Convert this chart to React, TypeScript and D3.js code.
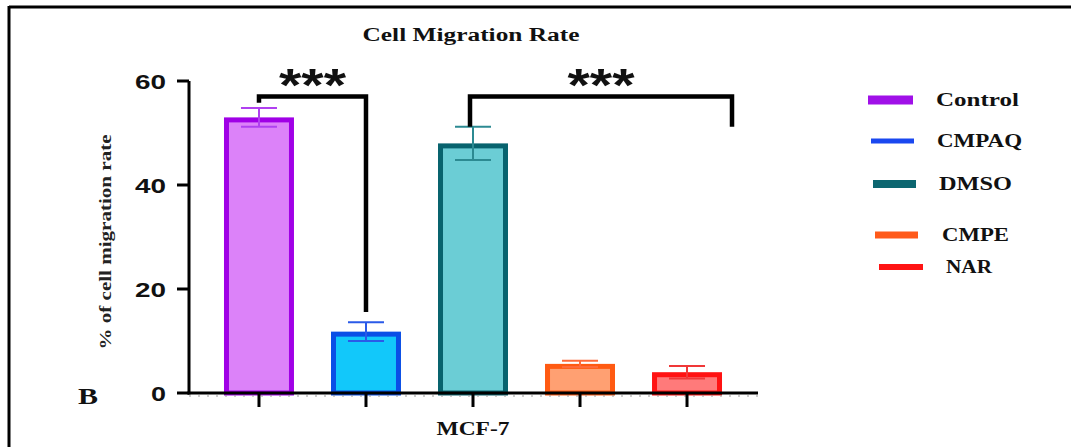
import React from "react";
import * as d3 from "d3";

const categories = ["Control", "CMPAQ", "DMSO", "CMPE", "NAR"];
const means = [53, 11.8, 48, 5.6, 4.0];
const errors = [1.8, 1.8, 3.2, 0.6, 1.2];
const yTicks = [0, 20, 40, 60];
const fillColors = ["#DC82F9", "#12C8FA", "#6BCDD5", "#FFA072", "#FF7A7A"];
const strokeColors = ["#A000E6", "#0A4FE6", "#08636E", "#FF5A12", "#FF1212"];
const errColors = ["#B040F0", "#2A5AE8", "#2C8A92", "#FF6A3A", "#F03838"];
const legendColors = ["#A010E8", "#1A48F0", "#0C6670", "#FF5A1A", "#FF1414"];
const legendLabels = ["Control", "CMPAQ", "DMSO", "CMPE", "NAR"];
// significance brackets
const brackets = [
  { from: 0, to: 1, top: 57, leftEnd: 55.8, rightEnd: 15.6, label: "***" },
  { from: 2, to: 5, top: 57, leftEnd: 51.2, rightEnd: 51.2, label: "***" },
];

const W = 1071;
const H = 447;
const serif = "'Liberation Serif', 'Times New Roman', serif";
const sans = "'Liberation Sans', Arial, sans-serif";

// legend layout (not data)
const legendLayout = [
  { y: 100, x: 868, w: 45, th: 9, tx: 936, tl: 83 },
  { y: 141, x: 871, w: 43, th: 5, tx: 937, tl: 85 },
  { y: 184, x: 873, w: 43, th: 8, tx: 939, tl: 73 },
  { y: 235, x: 875, w: 43, th: 7, tx: 942, tl: 67 },
  { y: 267, x: 879, w: 44, th: 6, tx: 946, tl: 46 },
];

export default function App() {
  const y = d3.scaleLinear().domain([0, 60]).range([393, 81]);
  const x = d3
    .scaleBand<string>()
    .domain(categories)
    .range([189, 757])
    .paddingInner(0.346)
    .paddingOuter(0.327);
  const bw = x.bandwidth();
  const cx = (i: number) => {
    if (i < categories.length) return (x(categories[i]) as number) + bw / 2;
    return (x(categories[categories.length - 1]) as number) + bw + 10;
  };

  return (
    <svg width={W} height={H} style={{ position: "absolute", left: 0, top: 0, background: "#fff" }}>
      <rect x={0} y={0} width={W} height={H} fill="#fff" />
      {/* frame */}
      <line x1={9} y1={7} x2={W} y2={7} stroke="#000" strokeWidth={3} />
      <line x1={9} y1={6} x2={9} y2={H} stroke="#000" strokeWidth={3} />

      {/* title */}
      <text x={471} y={41} textAnchor="middle" fontFamily={serif} fontWeight="bold" fontSize={18}
        textLength={217} lengthAdjust="spacingAndGlyphs" fill="#111">
        Cell Migration Rate
      </text>

      {/* bars */}
      {categories.map((c, i) => {
        const x0 = x(c) as number;
        const sw = 5;
        return (
          <g key={c}>
            <rect x={x0 + sw / 2} y={y(means[i]) + sw / 2} width={bw - sw}
              height={y(0) - y(means[i]) - sw / 2} fill={fillColors[i]} stroke={strokeColors[i]} strokeWidth={sw} />
          </g>
        );
      })}

      {/* error bars */}
      {categories.map((c, i) => {
        const xc = cx(i);
        const t = y(means[i] + errors[i]);
        const b = y(means[i] - errors[i]);
        return (
          <g key={"e" + c} stroke={errColors[i]} strokeWidth={2}>
            <line x1={xc} x2={xc} y1={t} y2={b} />
            <line x1={xc - 18} x2={xc + 18} y1={t} y2={t} />
            <line x1={xc - 18} x2={xc + 18} y1={b} y2={b} />
          </g>
        );
      })}

      {/* axes */}
      <line x1={189} y1={y(60)} x2={189} y2={y(0) + 1.5} stroke="#000" strokeWidth={3} />
      {yTicks.map((t) => (
        <g key={"t" + t}>
          <line x1={177} x2={189} y1={y(t)} y2={y(t)} stroke="#000" strokeWidth={3} />
          <text x={166} y={y(t) + 7.5} textAnchor="end" fontFamily={sans} fontWeight="bold" fontSize={20}
            textLength={t === 0 ? 15 : 31} lengthAdjust="spacingAndGlyphs" fill="#111">
            {t}
          </text>
        </g>
      ))}
      <line x1={187.5} y1={y(0)} x2={758} y2={y(0)} stroke="#000" strokeWidth={3} />
      <line x1={189} y1={396} x2={758} y2={396} stroke="#999" strokeWidth={1} strokeDasharray="2,7" />
      {categories.map((c, i) => (
        <line key={"xt" + c} x1={cx(i)} x2={cx(i)} y1={y(0)} y2={407} stroke="#000" strokeWidth={3} />
      ))}

      {/* axis labels */}
      <text transform={`translate(111,242) rotate(-90)`} textAnchor="middle" fontFamily={serif} fontWeight="bold"
        fontSize={17} textLength={215} lengthAdjust="spacingAndGlyphs" fill="#222">
        % of cell migration rate
      </text>
      <text x={473} y={435} textAnchor="middle" fontFamily={serif} fontWeight="bold" fontSize={18}
        textLength={73} lengthAdjust="spacingAndGlyphs" fill="#111">
        MCF-7
      </text>
      <text x={88} y={404} textAnchor="middle" fontFamily={serif} fontWeight="bold" fontSize={23}
        textLength={20} lengthAdjust="spacingAndGlyphs" fill="#111">
        B
      </text>

      {/* significance brackets */}
      {brackets.map((b, k) => {
        const xl = b.from === 2 ? cx(b.from) - 3 : cx(b.from);
        const xr = cx(b.to);
        const yt = y(b.top);
        return (
          <g key={"b" + k}>
            <path d={`M${xl},${y(b.leftEnd)}V${yt}H${xr}V${y(b.rightEnd)}`} fill="none" stroke="#000"
              strokeWidth={4.5} strokeLinejoin="miter" />
            <text x={(xl + xr) / 2} y={yt + 4} textAnchor="middle" fontFamily={sans} fontWeight="bold"
              fontSize={46} textLength={67} lengthAdjust="spacingAndGlyphs" fill="#111">
              {b.label}
            </text>
          </g>
        );
      })}

      {/* legend */}
      {legendLabels.map((l, i) => {
        const L = legendLayout[i];
        return (
          <g key={"l" + l}>
            <rect x={L.x} y={L.y - L.th / 2} width={L.w} height={L.th} fill={legendColors[i]} />
            <text x={L.tx} y={L.y + 6} fontFamily={serif} fontWeight="bold" fontSize={18}
              textLength={L.tl} lengthAdjust="spacingAndGlyphs" fill="#111">
              {l}
            </text>
          </g>
        );
      })}
    </svg>
  );
}
